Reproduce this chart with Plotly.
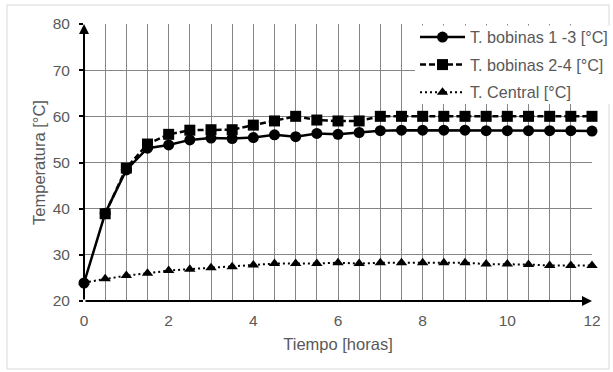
import plotly.graph_objects as go

# ---- data ----
tiempo = [0, 0.5, 1, 1.5, 2, 2.5, 3, 3.5, 4, 4.5, 5, 5.5, 6, 6.5, 7, 7.5, 8, 8.5, 9, 9.5, 10, 10.5, 11, 11.5, 12]
bobinas_13 = [23.9, 39.0, 48.4, 53.1, 53.8, 54.9, 55.3, 55.2, 55.4, 56.0, 55.6, 56.3, 56.1, 56.5, 56.9, 57.0, 57.0, 57.0, 57.0, 56.9, 56.9, 56.9, 56.9, 56.9, 56.8]
bobinas_24 = [None, 38.9, 48.8, 54.0, 56.1, 57.0, 57.1, 57.1, 58.1, 59.0, 60.0, 59.2, 59.0, 59.0, 60.0, 60.0, 60.0, 60.0, 60.0, 60.0, 60.0, 60.0, 60.0, 60.0, 60.0]
central = [24.0, 24.8, 25.5, 26.0, 26.6, 26.9, 27.2, 27.4, 27.8, 28.1, 28.1, 28.1, 28.3, 28.1, 28.3, 28.3, 28.3, 28.3, 28.3, 28.0, 28.0, 27.9, 27.7, 27.7, 27.7]
names = ["T. bobinas 1 -3 [°C]", "T. bobinas 2-4 [°C]", "T. Central [°C]"]
x_title = "Tiempo [horas]"
y_title = "Temperatura [°C]"

W, H = 613, 372
ML, MR, MT, MB = 84, 21, 24, 71
PW, PH = W - ML - MR, H - MT - MB
FONT = "Liberation Sans, Arial, sans-serif"
GRAY = "#595959"
GRID = "#858585"

fig = go.Figure()
fig.add_trace(go.Scatter(x=tiempo, y=central, name=names[2], mode="lines+markers",
                         line=dict(color="black", width=2, dash="2px,3px"),
                         marker=dict(symbol="triangle-up", size=10, color="black"),
                         cliponaxis=False, legendrank=3, legendgroup="c"))
fig.add_trace(go.Scatter(x=tiempo, y=bobinas_13, name=names[0], mode="lines+markers",
                         line=dict(color="black", width=2.5),
                         marker=dict(symbol="circle", size=11, color="black"),
                         cliponaxis=False, legendrank=1, legendgroup="a"))
fig.add_trace(go.Scatter(x=tiempo, y=bobinas_24, name=names[1], mode="lines+markers",
                         line=dict(color="black", width=2.5, dash="6px,3px"),
                         marker=dict(symbol="square", size=11, color="black"),
                         cliponaxis=False, legendrank=2, legendgroup="b", connectgaps=False))

def px_x(px):
    return (px - ML) / PW

def px_y(py):
    return (H - MB - py) / PH

fig.update_layout(
    width=W, height=H,
    margin=dict(l=ML, r=MR, t=MT, b=MB, pad=0, autoexpand=False),
    paper_bgcolor="white", plot_bgcolor="white",
    font=dict(family=FONT, color=GRAY, size=15),
    showlegend=True,
    legend=dict(x=px_x(415), y=px_y(20), xanchor="left", yanchor="top",
                bgcolor="rgba(0,0,0,0)", borderwidth=0, itemwidth=45,
                font=dict(family=FONT, color=GRAY, size=16.2),
                traceorder="grouped", tracegroupgap=3.5),
    xaxis=dict(range=[0, 12], dtick=2, tick0=0, showline=False, zeroline=False,
               showgrid=True, gridcolor=GRID, gridwidth=1,
               minor=dict(dtick=0.5, showgrid=True, gridcolor=GRID, gridwidth=1),
               ticks="", ticklabelstandoff=8,
               tickfont=dict(family=FONT, color=GRAY, size=15.5),
               title=dict(text=x_title, font=dict(family=FONT, color=GRAY, size=16.5), standoff=10)),
    yaxis=dict(range=[20, 80], dtick=10, tick0=20, showline=False, zeroline=False,
               showgrid=True, gridcolor=GRID, gridwidth=1,
               ticks="outside", ticklen=4, tickcolor="black", tickwidth=1.5,
               ticklabelstandoff=6,
               tickfont=dict(family=FONT, color=GRAY, size=15.5),
               title=dict(text=y_title, font=dict(family=FONT, color=GRAY, size=16.5), standoff=2)),
)

# white box behind the legend (hides grid there)
fig.add_shape(type="rect", xref="paper", yref="paper",
              x0=px_x(415), x1=px_x(613), y0=px_y(104), y1=px_y(25.5),
              line=dict(width=0), fillcolor="white", layer="above")

# axes with arrowheads
fig.add_annotation(x=12, y=20, ax=0, ay=20, xref="x", yref="y", axref="x", ayref="y",
                   text="", showarrow=True, arrowhead=2, arrowsize=1, arrowwidth=2, arrowcolor="black")
fig.add_annotation(x=0, y=80, ax=0, ay=20, xref="x", yref="y", axref="x", ayref="y",
                   text="", showarrow=True, arrowhead=2, arrowsize=1, arrowwidth=2, arrowcolor="black")

# outer light frame
fig.add_shape(type="rect", xref="paper", yref="paper",
              x0=px_x(7), x1=px_x(609), y0=px_y(369), y1=px_y(5),
              line=dict(color="#d9d9d9", width=1), fillcolor="rgba(0,0,0,0)", layer="below")

fig.write_html("out.html", config={"displayModeBar": False},
               post_script="document.body.style.margin='0';")
